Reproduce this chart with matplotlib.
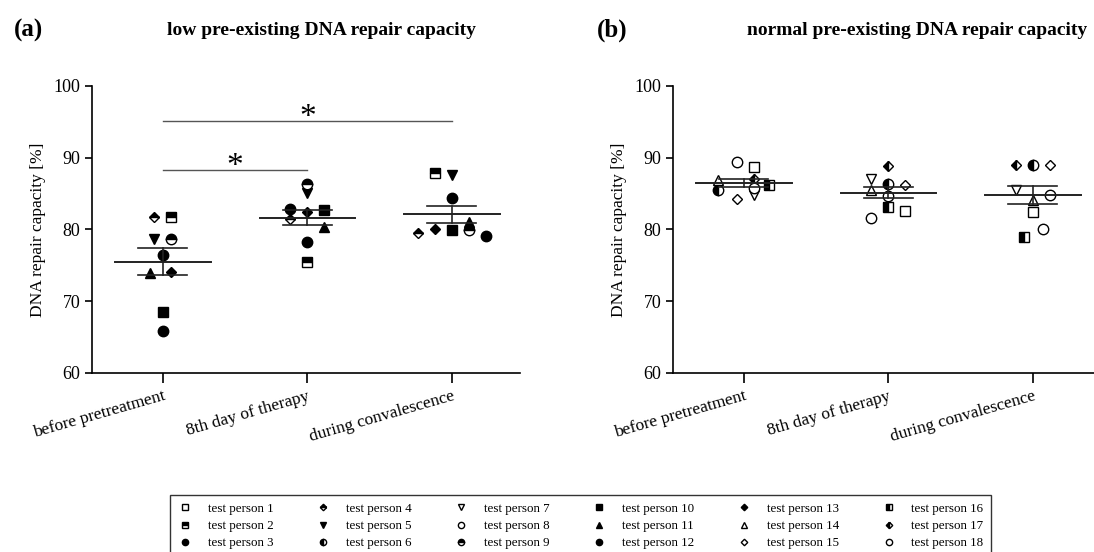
import numpy as np
import matplotlib.pyplot as plt
from matplotlib.lines import Line2D

plt.rcParams['font.family'] = ['Liberation Serif', 'DejaVu Serif']

categories = ['before pretreatment', '8th day of therapy', 'during convalescence']

# test persons in each group
low_ids = [2, 3, 4, 5, 9, 10, 11, 12, 13]
normal_ids = [1, 6, 7, 8, 14, 15, 16, 17, 18]

# DNA repair capacity [%] per person: before / 8th day / convalescence
low_before = [81.8, 76.4, 81.8, 78.7, 78.7, 68.5, 74.0, 65.8, 74.1]
low_day8 = [75.5, 82.9, 81.5, 85.1, 86.3, 82.7, 80.3, 78.3, 82.4]
low_conv = [87.9, 84.4, 79.5, 87.6, 79.9, 79.9, 81.0, 79.1, 80.0]

normal_before = [88.7, 85.5, 84.8, 89.4, 86.9, 84.3, 86.2, 87.0, 85.8]
normal_day8 = [82.6, 86.3, 87.0, 81.6, 85.5, 86.2, 83.2, 88.8, 84.7]
normal_conv = [82.5, 89.0, 85.5, 80.0, 84.1, 89.0, 78.9, 89.0, 84.8]

# sideways shift of overlapping symbols (in marker slots)
low_shift = [[0.5, 0, -0.5, -0.5, 0.5, 0, -0.75, 0, 0.5],
             [0, -1, -1, 0, 0, 1, 1, 0, 0],
             [-1, 0, -2, 0, 1, 0, 1, 2, -1]]
normal_shift = [[0.6, -1.5, 0.6, -0.4, -1.5, -0.4, 1.5, 0.6, 0.6],
                [1, 0, -1, -1, -1, 1, 0, 0, 0],
                [0, 0, -1, 0.6, 0, 1, -0.5, -1, 1]]

# marker, fillstyle for each test person
styles = {
    1: ('s', 'none'), 2: ('s', 'top'), 3: ('o', 'full'),
    4: ('D', 'top'), 5: ('v', 'full'), 6: ('o', 'left'),
    7: ('v', 'none'), 8: ('o', 'none'), 9: ('o', 'top'),
    10: ('s', 'full'), 11: ('^', 'full'), 12: ('o', 'full'),
    13: ('D', 'full'), 14: ('^', 'none'), 15: ('D', 'none'),
    16: ('s', 'left'), 17: ('D', 'left'), 18: ('o', 'none'),
}
sizes = {'s': 6.5, 'o': 7.5, 'D': 5.5, 'v': 7.5, '^': 7.5}


def marker_kw(pid, scale=1.0):
    m, fs = styles[pid]
    kw = dict(marker=m, markersize=sizes[m] * scale, markeredgecolor='black',
              markeredgewidth=1.0, linestyle='none')
    if fs == 'none':
        kw.update(markerfacecolor='white')
    elif fs == 'full':
        kw.update(markerfacecolor='black')
    else:
        kw.update(fillstyle=fs, markerfacecolor='black', markerfacecoloralt='white')
    return kw


def draw_panel(ax, ids, columns, shifts):
    slot = 0.118
    for j, vals in enumerate(columns):
        vals = np.array(vals)
        for pid, v, s in zip(ids, vals, shifts[j]):
            ax.plot(j + s * slot, v, zorder=3, **marker_kw(pid))
        mean = vals.mean()
        sem = vals.std(ddof=1) / np.sqrt(len(vals))
        ax.plot([j - 0.33, j + 0.33], [mean, mean], color='#222222', lw=1.4, zorder=4)
        ax.plot([j, j], [mean - sem, mean + sem], color='#222222', lw=1.2, zorder=4)
        for y in (mean - sem, mean + sem):
            ax.plot([j - 0.17, j + 0.17], [y, y], color='#222222', lw=1.2, zorder=4)

    ax.set_xlim(-0.49, 2.47)
    ax.set_ylim(60, 100)
    ax.set_yticks([60, 70, 80, 90, 100])
    ax.set_xticks(range(3))
    ax.set_xticklabels(categories, rotation=16, ha='right', rotation_mode='anchor')
    ax.tick_params(axis='x', length=7, width=1.2, labelsize=12.5, pad=4)
    ax.tick_params(axis='y', length=5, width=1.2, labelsize=13)
    ax.spines['top'].set_visible(False)
    ax.spines['right'].set_visible(False)
    ax.spines['left'].set_linewidth(1.2)
    ax.spines['bottom'].set_linewidth(1.2)
    ax.set_ylabel('DNA repair capacity [%]', fontsize=12.5, labelpad=5)


fig = plt.figure(figsize=(10.94, 5.52), dpi=100)
ax1 = fig.add_axes([0.0841, 0.3243, 0.391, 0.52])
ax2 = fig.add_axes([0.6152, 0.3243, 0.391, 0.52])

draw_panel(ax1, low_ids, [low_before, low_day8, low_conv], low_shift)
draw_panel(ax2, normal_ids, [normal_before, normal_day8, normal_conv], normal_shift)

# significance brackets
ax1.plot([0, 2], [95.1, 95.1], color='#555555', lw=1.0)
ax1.text(1, 95.6, '*', ha='center', va='center', fontsize=24)
ax1.plot([0, 1], [88.3, 88.3], color='#555555', lw=1.0)
ax1.text(0.5, 88.8, '*', ha='center', va='center', fontsize=24)

fig.text(0.013, 0.945, '(a)', fontsize=18, fontweight='bold', va='center')
fig.text(0.294, 0.945, 'low pre-existing DNA repair capacity', fontsize=14,
         fontweight='bold', ha='center', va='center')
fig.text(0.546, 0.945, '(b)', fontsize=18, fontweight='bold', va='center')
fig.text(0.838, 0.945, 'normal pre-existing DNA repair capacity', fontsize=14,
         fontweight='bold', ha='center', va='center')

handles = [Line2D([], [], **marker_kw(p, 0.6)) for p in range(1, 19)]
labels = ['test person %d' % p for p in range(1, 19)]
leg = fig.legend(handles, labels, ncol=6, loc='center', bbox_to_anchor=(0.531, 0.047),
                 fontsize=9.4, frameon=True, fancybox=False, edgecolor='black',
                 handlelength=1.0, handletextpad=1.25, columnspacing=3.3,
                 labelspacing=0.38, borderpad=0.6)
leg.get_frame().set_linewidth(1.0)

fig.savefig('out.png', dpi=100)
